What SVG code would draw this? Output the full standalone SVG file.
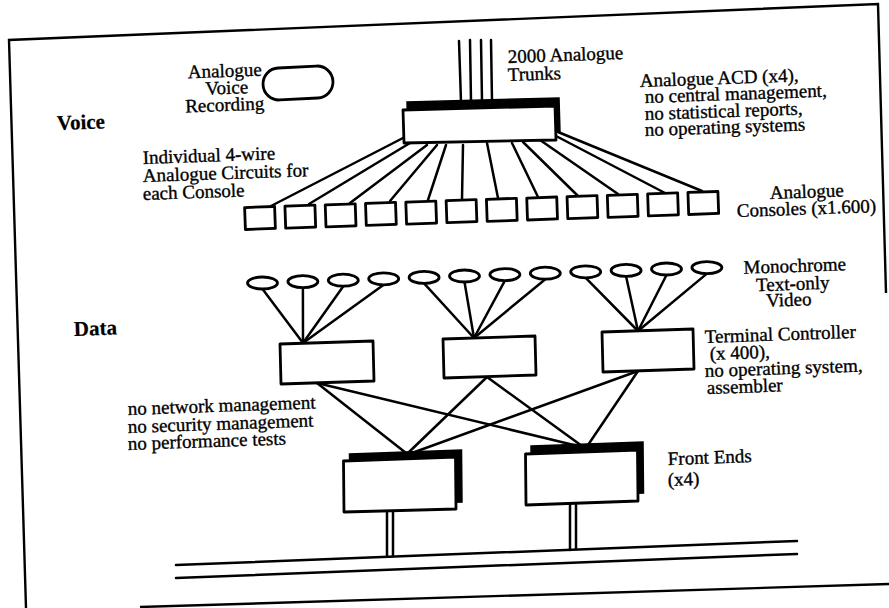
<svg xmlns="http://www.w3.org/2000/svg" width="889" height="608" viewBox="0 0 889 608">
<style>
.t{font-family:"Liberation Serif","Times New Roman",serif;font-size:19px;fill:#000;stroke:#000;stroke-width:0.35}
.b{font-weight:bold;font-size:21px;stroke-width:0.2}
.m{text-anchor:middle}
.ln{stroke:#000;stroke-width:2.5;fill:none;stroke-linecap:round}
.bx{fill:#fff;stroke:#000;stroke-width:2.8;stroke-linejoin:round}
.sh{fill:#000;stroke:#000;stroke-width:1.5}
.fr{stroke:#000;stroke-width:2.4;fill:none}
</style>
<rect width="889" height="608" fill="#fff"/>
<g id="frame">
<polyline class="fr" points="886,293 878,4 9,40 26,608"/>
<line class="fr" x1="140" y1="607" x2="889" y2="584"/>
</g>
<g id="connectors">
<line class="ln" x1="459" y1="41" x2="461" y2="102"/>
<line class="ln" x1="470" y1="40" x2="471" y2="102"/>
<line class="ln" x1="481" y1="40" x2="482" y2="101"/>
<line class="ln" x1="491" y1="40" x2="492" y2="101"/>
<line class="ln" x1="403" y1="138" x2="271" y2="206"/>
<line class="ln" x1="410" y1="143" x2="309" y2="204"/>
<line class="ln" x1="427" y1="145" x2="350" y2="203"/>
<line class="ln" x1="437" y1="145" x2="390" y2="201"/>
<line class="ln" x1="446" y1="145" x2="428" y2="200"/>
<line class="ln" x1="463" y1="145" x2="462" y2="199"/>
<line class="ln" x1="487" y1="143" x2="498" y2="198"/>
<line class="ln" x1="512" y1="143" x2="538" y2="197"/>
<line class="ln" x1="523" y1="142" x2="578" y2="196"/>
<line class="ln" x1="540" y1="140" x2="618" y2="194"/>
<line class="ln" x1="556" y1="136" x2="665" y2="193"/>
<line class="ln" x1="558" y1="132" x2="702" y2="191"/>
<line class="ln" x1="262.5" y1="289" x2="303" y2="343"/>
<line class="ln" x1="302.9" y1="287.6" x2="303" y2="343"/>
<line class="ln" x1="343.3" y1="286.2" x2="303" y2="343"/>
<line class="ln" x1="383.7" y1="284.8" x2="303" y2="343"/>
<line class="ln" x1="424.1" y1="283.4" x2="474" y2="338"/>
<line class="ln" x1="464.5" y1="282" x2="474" y2="338"/>
<line class="ln" x1="504.9" y1="280.6" x2="474" y2="338"/>
<line class="ln" x1="545.3" y1="279.2" x2="474" y2="338"/>
<line class="ln" x1="585.7" y1="277.8" x2="638" y2="331"/>
<line class="ln" x1="626.1" y1="276.4" x2="638" y2="331"/>
<line class="ln" x1="666.5" y1="275" x2="638" y2="331"/>
<line class="ln" x1="706.9" y1="273.6" x2="638" y2="331"/>
<line class="ln" x1="317" y1="383" x2="406" y2="453"/>
<line class="ln" x1="317" y1="383" x2="578" y2="446"/>
<line class="ln" x1="487" y1="377" x2="408" y2="453"/>
<line class="ln" x1="487" y1="377" x2="582" y2="446"/>
<line class="ln" x1="638" y1="371" x2="412" y2="453"/>
<line class="ln" x1="638" y1="371" x2="588" y2="445"/>
<line class="ln" x1="387" y1="511" x2="387" y2="556"/>
<line class="ln" x1="393" y1="511" x2="393" y2="556"/>
<line class="ln" x1="570" y1="504" x2="570" y2="550"/>
<line class="ln" x1="576" y1="504" x2="576" y2="549"/>
<line class="ln" stroke-width="3" x1="176" y1="565" x2="797" y2="541"/>
<line class="ln" stroke-width="3" x1="176" y1="578" x2="797" y2="554"/>
</g>
<g id="recorder">
<rect class="bx" x="263" y="67" width="70" height="32" rx="16" transform="rotate(-3 298 83)"/>
<text class="t m" x="225" y="77" transform="rotate(-2 225 77)">Analogue</text>
<text class="t m" x="227" y="94" transform="rotate(-2 227 94)">Voice</text>
<text class="t m" x="225" y="111" transform="rotate(-2 225 111)">Recording</text>
</g>
<g id="acd">
<polygon class="sh" points="407,102 559,98 560,132 408,135"/>
<polygon class="bx" points="403,110 555,106 556,140 404,143"/>
<text class="t" x="508" y="63" transform="rotate(-2 508 63)">2000 Analogue</text>
<text class="t" x="508" y="81" transform="rotate(-2 508 81)">Trunks</text>
<text class="t" x="640" y="87" transform="rotate(-2 640 87)">Analogue ACD (x4),</text>
<text class="t" x="645" y="103" transform="rotate(-2 645 103)">no central management,</text>
<text class="t" x="645" y="120" transform="rotate(-2 645 120)">no statistical reports,</text>
<text class="t" x="645" y="136" transform="rotate(-2 645 136)">no operating systems</text>
</g>
<g id="labels">
<text class="t b" x="57" y="130" transform="rotate(-2 57 130)">Voice</text>
<text class="t b" x="74" y="336" transform="rotate(-2 74 336)">Data</text>
<text class="t" x="143" y="164" transform="rotate(-2 143 164)">Individual 4-wire</text>
<text class="t" x="143" y="182" transform="rotate(-2 143 182)">Analogue Circuits for</text>
<text class="t" x="143" y="200" transform="rotate(-2 143 200)">each Console</text>
</g>
<g id="consoles">
<rect class="bx" x="245" y="207" width="30" height="22" transform="rotate(-2 260 218)"/>
<rect class="bx" x="285.3" y="205.6" width="30" height="22" transform="rotate(-2 300 217)"/>
<rect class="bx" x="325.6" y="204.3" width="30" height="22" transform="rotate(-2 341 215)"/>
<rect class="bx" x="365.9" y="202.9" width="30" height="22" transform="rotate(-2 381 214)"/>
<rect class="bx" x="406.2" y="201.6" width="30" height="22" transform="rotate(-2 421 213)"/>
<rect class="bx" x="446.5" y="200.2" width="30" height="22" transform="rotate(-2 461 211)"/>
<rect class="bx" x="486.8" y="198.8" width="30" height="22" transform="rotate(-2 502 210)"/>
<rect class="bx" x="527.1" y="197.5" width="30" height="22" transform="rotate(-2 542 208)"/>
<rect class="bx" x="567.4" y="196.1" width="30" height="22" transform="rotate(-2 582 207)"/>
<rect class="bx" x="607.7" y="194.8" width="30" height="22" transform="rotate(-2 623 206)"/>
<rect class="bx" x="648" y="193.4" width="30" height="22" transform="rotate(-2 663 204)"/>
<rect class="bx" x="688.3" y="192" width="30" height="22" transform="rotate(-2 703 203)"/>
<text class="t" x="770" y="199" transform="rotate(-2 770 199)">Analogue</text>
<text class="t" x="737" y="217" transform="rotate(-2 737 217)">Consoles (x1.600)</text>
</g>
<g id="videos">
<ellipse class="bx" cx="262.5" cy="283" rx="15" ry="6"/>
<ellipse class="bx" cx="302.9" cy="281.6" rx="15" ry="6"/>
<ellipse class="bx" cx="343.3" cy="280.2" rx="15" ry="6"/>
<ellipse class="bx" cx="383.7" cy="278.8" rx="15" ry="6"/>
<ellipse class="bx" cx="424.1" cy="277.4" rx="15" ry="6"/>
<ellipse class="bx" cx="464.5" cy="276" rx="15" ry="6"/>
<ellipse class="bx" cx="504.9" cy="274.6" rx="15" ry="6"/>
<ellipse class="bx" cx="545.3" cy="273.2" rx="15" ry="6"/>
<ellipse class="bx" cx="585.7" cy="271.8" rx="15" ry="6"/>
<ellipse class="bx" cx="626.1" cy="270.4" rx="15" ry="6"/>
<ellipse class="bx" cx="666.5" cy="269" rx="15" ry="6"/>
<ellipse class="bx" cx="706.9" cy="267.6" rx="15" ry="6"/>
<text class="t m" x="795" y="272" transform="rotate(-2 795 272)">Monochrome</text>
<text class="t m" x="793" y="290" transform="rotate(-2 793 290)">Text-only</text>
<text class="t m" x="789" y="306" transform="rotate(-2 789 306)">Video</text>
</g>
<g id="tc-left"><polygon class="bx" points="280,344 373,341 374,381 281,384"/></g>
<g id="tc-middle"><polygon class="bx" points="443,339 535,336 536,375 444,378"/></g>
<g id="tc-right"><polygon class="bx" points="602,332 693,329 694,369 603,372"/></g>
<g id="tc-label">
<text class="t" x="705" y="343" transform="rotate(-2 705 343)">Terminal Controller</text>
<text class="t" x="710" y="360" transform="rotate(-2 710 360)">(x 400),</text>
<text class="t" x="705" y="377" transform="rotate(-2 705 377)">no operating system,</text>
<text class="t" x="707" y="394" transform="rotate(-2 707 394)">assembler</text>
</g>
<g id="mgmt-label">
<text class="t" x="128" y="415" transform="rotate(-2 128 415)">no network management</text>
<text class="t" x="128" y="433" transform="rotate(-2 128 433)">no security management</text>
<text class="t" x="128" y="450" transform="rotate(-2 128 450)">no performance tests</text>
</g>
<g id="fe-left">
<polygon class="sh" points="349.5,454 461.5,450 462,502 350,505"/>
<polygon class="bx" points="343.5,461 455.5,457 456,509 344,512"/>
</g>
<g id="fe-right">
<polygon class="sh" points="531,446 643,442 643.5,493 531.5,497"/>
<polygon class="bx" points="525.5,454 637.5,450 638,501 526,505"/>
</g>
<g id="fe-label">
<text class="t" x="668" y="465" transform="rotate(-2 668 465)">Front Ends</text>
<text class="t" x="668" y="486" transform="rotate(-2 668 486)">(x4)</text>
</g>
</svg>
